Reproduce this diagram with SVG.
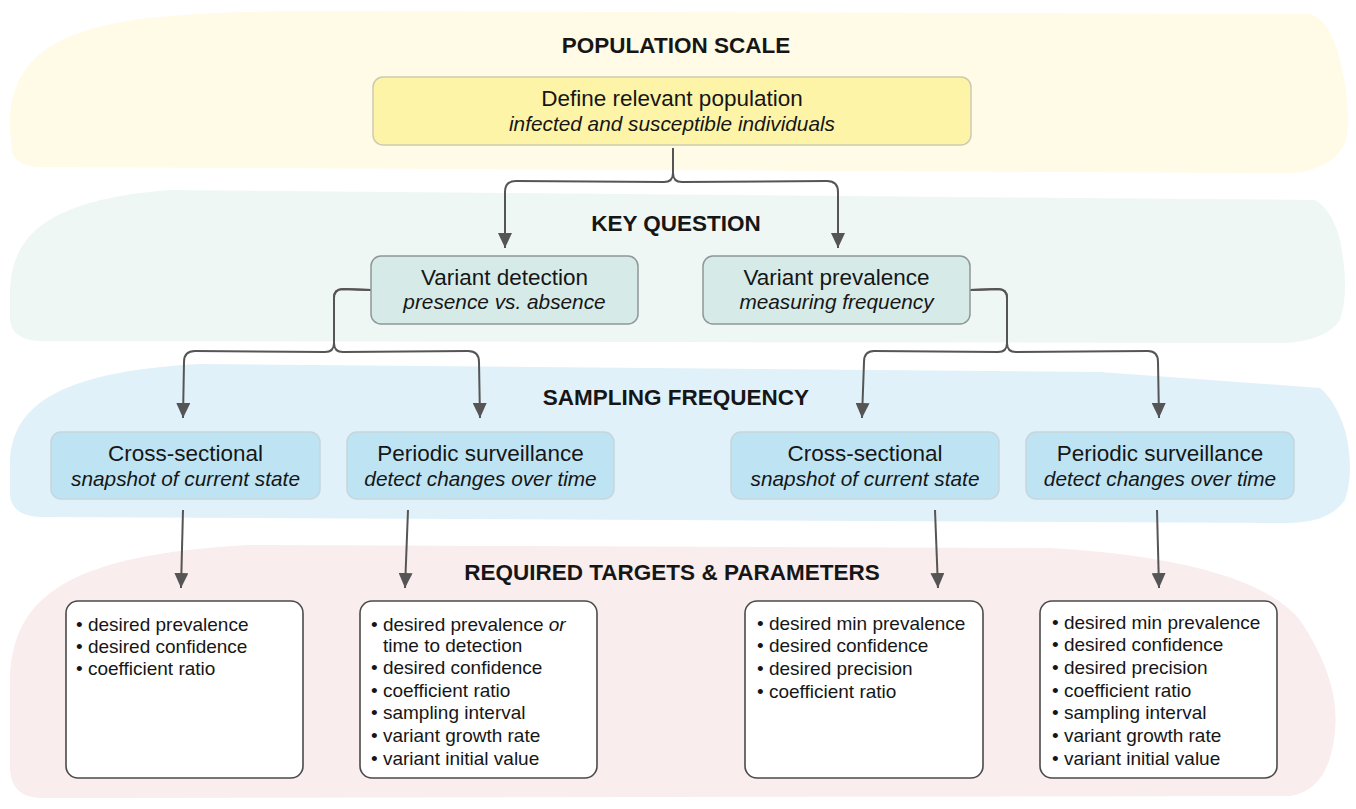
<svg xmlns="http://www.w3.org/2000/svg" width="1356" height="809" viewBox="0 0 1356 809">
<defs>
<marker id="arr" markerUnits="userSpaceOnUse" markerWidth="16" markerHeight="14" refX="15" refY="7" orient="auto" viewBox="0 0 16 14">
<path d="M0,0 L15,7 L0,14 Z" fill="#555"/>
</marker>
<style>
text{font-family:"Liberation Sans",Arial,Helvetica,sans-serif;fill:#161616}
.hd{font-weight:bold;font-size:22.5px;text-anchor:middle}
.t1{font-size:22.5px;text-anchor:middle}
.t2{font-size:20.8px;font-style:italic;text-anchor:middle}
.p{font-size:19px}
.it{font-style:italic}
.con{fill:none;stroke:#555;stroke-width:2}
.ylw{fill:#fdf4a8;stroke:#cdcab0;stroke-width:1.5}
.mnt{fill:#d6ebe8;stroke:#8e9896;stroke-width:1.5}
.blu{fill:#bee4f4;stroke:#c6d6dc;stroke-width:1.5}
.prm{fill:#fff;stroke:#4a4a4a;stroke-width:1.6}
</style>
</defs>
<g id="bands">
<path d="M 10 130 C 8 70 40 30 150 18 Q 200 12 300 11 L 1310 14 Q 1330 20 1340 60 Q 1352 110 1346 140 Q 1335 170 1290 173 L 40 167 Q 14 166 12 150 Z" fill="#fffbe6"/>
<path d="M 10 300 C 8 240 40 200 170 190 L 1315 200 Q 1332 210 1340 240 Q 1350 290 1340 320 Q 1325 342 1280 343 L 40 341 Q 12 340 10 320 Z" fill="#eff7f4"/>
<path d="M 10 470 C 8 410 50 372 200 364 L 1100 372 L 1320 388 Q 1335 400 1345 430 Q 1355 470 1345 500 Q 1330 522 1290 523 L 40 517 Q 12 516 10 495 Z" fill="#e1f1f9"/>
<path d="M 10 690 C 8 600 60 555 250 545 L 1050 548 Q 1250 560 1300 620 Q 1340 680 1335 730 Q 1330 790 1290 796 L 40 798 Q 12 797 10 770 Z" fill="#f9eded"/>
</g>
<g id="headings">
<text class="hd" x="676" y="53">POPULATION SCALE</text>
<text class="hd" x="676" y="231">KEY QUESTION</text>
<text class="hd" x="676" y="405">SAMPLING FREQUENCY</text>
<text class="hd" x="672" y="580">REQUIRED TARGETS &amp; PARAMETERS</text>
</g>
<g id="connectors">
<path class="con" marker-end="url(#arr)" d="M673 148 L673 173 Q673 182 664 182 L516 181 Q505 181 505 192 L505 248"/>
<path class="con" marker-end="url(#arr)" d="M673 148 L673 173 Q673 182 682 182 L827 181 Q838 181 838 192 L838 248"/>
<path class="con" marker-end="url(#arr)" d="M371 290 L343 289 Q334 289 334 298 L334 343 Q334 352 325 352 L195 351 Q184 351 184 362 L183 418"/>
<path class="con" marker-end="url(#arr)" d="M371 290 L343 289 Q334 289 334 298 L334 343 Q334 352 343 352 L468 351 Q479 351 479 362 L480 418"/>
<path class="con" marker-end="url(#arr)" d="M970 290 L998 289 Q1007 289 1007 298 L1007 343 Q1007 352 998 352 L874 351 Q864 351 864 362 L862 418"/>
<path class="con" marker-end="url(#arr)" d="M970 290 L998 289 Q1007 289 1007 298 L1007 343 Q1007 352 1016 352 L1148 351 Q1158 351 1158 362 L1159 418"/>
<path class="con" marker-end="url(#arr)" d="M183 510 L181 588"/>
<path class="con" marker-end="url(#arr)" d="M408 510 L405 588"/>
<path class="con" marker-end="url(#arr)" d="M935 510 L938 588"/>
<path class="con" marker-end="url(#arr)" d="M1157 510 L1159 588"/>
</g>
<g id="n-define">
<rect class="ylw" x="373" y="77" width="598" height="68" rx="10"/>
<text class="t1" x="672" y="106">Define relevant population</text>
<text class="t2" x="672" y="131">infected and susceptible individuals</text>
</g>
<g id="n-detection">
<rect class="mnt" x="371" y="256" width="267" height="68" rx="10"/>
<text class="t1" x="504.5" y="285">Variant detection</text>
<text class="t2" x="504.5" y="309">presence vs. absence</text>
</g>
<g id="n-prevalence">
<rect class="mnt" x="703" y="256" width="267" height="68" rx="10"/>
<text class="t1" x="836.5" y="285">Variant prevalence</text>
<text class="t2" x="836.5" y="309">measuring frequency</text>
</g>
<g id="n-cross1">
<rect class="blu" x="51" y="432" width="269" height="67" rx="10"/>
<text class="t1" x="185.5" y="461">Cross-sectional</text>
<text class="t2" x="185.5" y="486">snapshot of current state</text>
</g>
<g id="n-periodic1">
<rect class="blu" x="347" y="432" width="267" height="67" rx="10"/>
<text class="t1" x="480.5" y="461">Periodic surveillance</text>
<text class="t2" x="480.5" y="486">detect changes over time</text>
</g>
<g id="n-cross2">
<rect class="blu" x="731" y="432" width="268" height="67" rx="10"/>
<text class="t1" x="865" y="461">Cross-sectional</text>
<text class="t2" x="865" y="486">snapshot of current state</text>
</g>
<g id="n-periodic2">
<rect class="blu" x="1026" y="432" width="268" height="67" rx="10"/>
<text class="t1" x="1160" y="461">Periodic surveillance</text>
<text class="t2" x="1160" y="486">detect changes over time</text>
</g>
<g id="n-params1">
<rect class="prm" x="66" y="601" width="237" height="177" rx="12"/>
<text class="p" x="76" y="631">• desired prevalence</text>
<text class="p" x="76" y="653">• desired confidence</text>
<text class="p" x="76" y="675">• coefficient ratio</text>
</g>
<g id="n-params2">
<rect class="prm" x="360" y="601" width="237" height="177" rx="12"/>
<text class="p" x="371" y="631">• desired prevalence <tspan class="it">or</tspan></text>
<text class="p" x="383" y="652">time to detection</text>
<text class="p" x="371" y="674">• desired confidence</text>
<text class="p" x="371" y="697">• coefficient ratio</text>
<text class="p" x="371" y="719">• sampling interval</text>
<text class="p" x="371" y="742">• variant growth rate</text>
<text class="p" x="371" y="765">• variant initial value</text>
</g>
<g id="n-params3">
<rect class="prm" x="745" y="601" width="238" height="177" rx="12"/>
<text class="p" x="757" y="630">• desired min prevalence</text>
<text class="p" x="757" y="652">• desired confidence</text>
<text class="p" x="757" y="675">• desired precision</text>
<text class="p" x="757" y="698">• coefficient ratio</text>
</g>
<g id="n-params4">
<rect class="prm" x="1040" y="601" width="237" height="177" rx="12"/>
<text class="p" x="1052" y="629">• desired min prevalence</text>
<text class="p" x="1052" y="651">• desired confidence</text>
<text class="p" x="1052" y="674">• desired precision</text>
<text class="p" x="1052" y="697">• coefficient ratio</text>
<text class="p" x="1052" y="719">• sampling interval</text>
<text class="p" x="1052" y="742">• variant growth rate</text>
<text class="p" x="1052" y="765">• variant initial value</text>
</g>
</svg>
